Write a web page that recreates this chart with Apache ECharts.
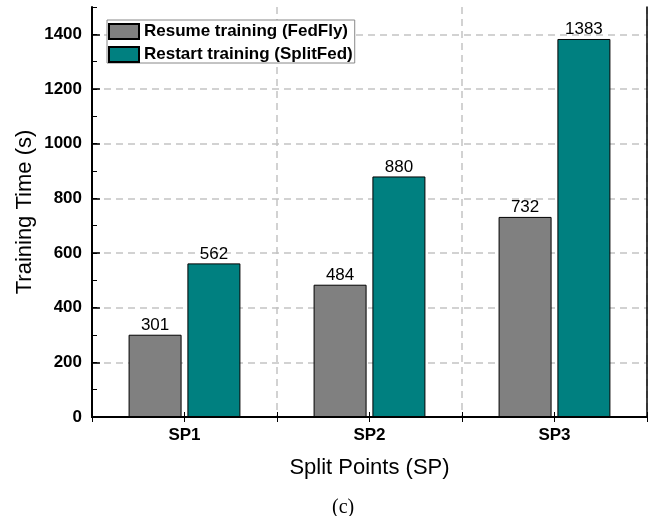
<!DOCTYPE html>
<html>
<head>
<meta charset="utf-8">
<script src="https://cdn.jsdelivr.net/npm/echarts@6/dist/echarts.min.js"></script>
<style>
  html, body { margin: 0; padding: 0; background: #fff; }
  #chart { width: 665px; height: 516px; }
</style>
</head>
<body>
<div id="chart"></div>
<script>
// data
const categories = ['SP1', 'SP2', 'SP3']
const resumeFedFly = [301, 484, 732]
const restartSplitFed = [562, 880, 1383]
const seriesNames = ['Resume training (FedFly)', 'Restart training (SplitFed)']

const FONT = '"Liberation Sans", Arial, sans-serif'
const chart = echarts.init(document.getElementById('chart'))

// plain tick-only axis helper (no labels)
function tickAxis(pos, extra) {
  return Object.assign({
    type: 'value', position: pos, min: 0, max: 3, interval: 0.5,
    axisLine: { show: false },
    axisTick: { show: true, inside: true, length: 5, lineStyle: { color: '#000', width: 1 } },
    axisLabel: { show: false },
    splitLine: { show: false }
  }, extra || {})
}

chart.setOption({
  animation: false,
  title: {
    text: '(c)', left: 327, top: 493,
    textStyle: { fontFamily: '"Liberation Serif", "Times New Roman", serif', fontSize: 20, fontWeight: 'normal', color: '#000' }
  },
  legend: {
    data: seriesNames,
    orient: 'vertical',
    left: 107, top: 20,
    padding: [3, 2, 0, 1],
    itemGap: 6,
    itemWidth: 30, itemHeight: 15,
    icon: 'rect',
    backgroundColor: '#fff',
    borderColor: '#888', borderWidth: 1,
    textStyle: { fontFamily: FONT, fontSize: 17, fontWeight: 'bold', color: '#000', padding: [0, 0, 0, 0] }
  },
  grid: { left: 92, right: 18, top: 7, bottom: 99 },
  xAxis: [
    {
      type: 'category', data: categories, position: 'bottom',
      name: 'Split Points (SP)', nameLocation: 'middle', nameGap: 40,
      nameTextStyle: { fontFamily: FONT, fontSize: 22, color: '#000' },
      axisLine: { lineStyle: { color: '#000', width: 2 } },
      axisTick: { show: false },
      axisLabel: { fontFamily: FONT, fontSize: 17, fontWeight: 'bold', color: '#000', margin: 10 },
      splitLine: { show: true, lineStyle: { color: '#c4c4c4', width: 1.5, type: [7, 5] } }
    },
    tickAxis('bottom'),
    tickAxis('top', { axisLine: { show: true, lineStyle: { color: '#000', width: 2 } } })
  ],
  yAxis: [
    {
      type: 'value', position: 'left', min: 0, max: 1500, interval: 200,
      name: 'Training Time (s)', nameLocation: 'middle', nameGap: 56, nameMoveOverlap: false,
      nameTextStyle: { fontFamily: FONT, fontSize: 22, color: '#000' },
      axisLine: { show: true, lineStyle: { color: '#000', width: 2 } },
      axisTick: { show: true, inside: true, length: 8, lineStyle: { color: '#000', width: 1.5 } },
      axisLabel: {
        fontFamily: FONT, fontSize: 17, fontWeight: 'bold', color: '#000', margin: 10, showMaxLabel: false,
        formatter: function (v) { return String(v) }
      },
      splitLine: { show: false }
    },
    {
      type: 'value', position: 'left', min: 0, max: 1500, interval: 100,
      axisLine: { show: false },
      axisTick: { show: true, inside: true, length: 5, lineStyle: { color: '#000', width: 1 } },
      axisLabel: { show: false },
      splitLine: {
        show: true, showMinLine: false, showMaxLine: false,
        lineStyle: { color: ['transparent', '#c4c4c4'], width: 1.5, type: [7, 5] }
      }
    },
    {
      type: 'value', position: 'right', min: 0, max: 1500,
      axisLine: { show: true, lineStyle: { color: '#000', width: 1.5 } },
      axisTick: { show: false },
      axisLabel: { show: false },
      splitLine: { show: false }
    }
  ],
  series: [
    {
      name: seriesNames[0], type: 'bar', data: resumeFedFly,
      xAxisIndex: 0, yAxisIndex: 0,
      barWidth: 53, barGap: '11%',
      itemStyle: { color: '#808080', borderColor: '#000', borderWidth: 1 },
      label: { show: true, position: 'top', distance: 1, fontFamily: FONT, fontSize: 17, color: '#000' }
    },
    {
      name: seriesNames[1], type: 'bar', data: restartSplitFed,
      xAxisIndex: 0, yAxisIndex: 0,
      barWidth: 53,
      itemStyle: { color: '#008080', borderColor: '#000', borderWidth: 1 },
      label: { show: true, position: 'top', distance: 1, fontFamily: FONT, fontSize: 17, color: '#000' }
    }
  ]
})
</script>
</body>
</html>
